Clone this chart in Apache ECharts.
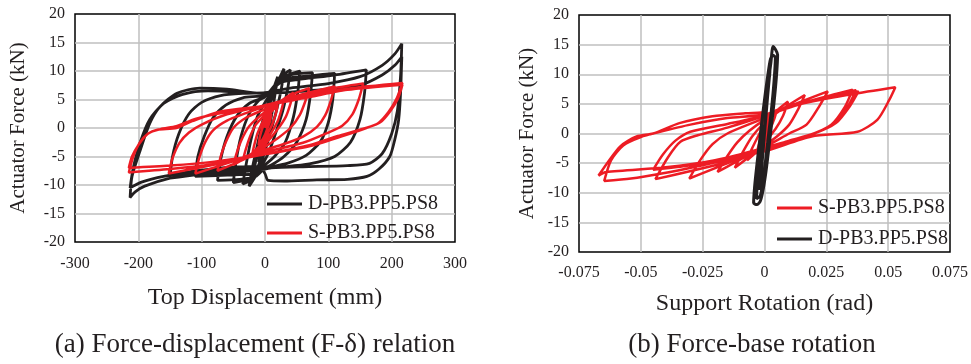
<!DOCTYPE html>
<html>
<head>
<meta charset="utf-8">
<script src="https://cdn.jsdelivr.net/npm/echarts@6/dist/echarts.min.js"></script>
<style>
html,body{margin:0;padding:0;background:#fff;}
#c{width:971px;height:364px;}
</style>
</head>
<body>
<div id="c"></div>
<script>
// ---- Data ----
const nameD = 'D-PB3.PP5.PS8';
const nameS = 'S-PB3.PP5.PS8';

// (a) Force vs top displacement (mm, kN) - D specimen
const dispForceD = [
[0,0],[5,3],[10,6],[7,3],[2,0],[-3,-3],[-10,-6],[-7,-3],[-2,0],[0,1],
[8,5],[20,9],[16,6],[10,2],[3,-2],[-5,-5],[-20,-9.3],[-15,-6],[-8,-2],[0,2],
[10,5],[20,8],[30,10.4],[26,7],[18,3],[8,-1],[0,-4],[-10,-7.5],[-25,-10.2],[-20,-7],[-12,-3],[-3,1.5],[5,4.5],
[15,7],[25,9],[40,10.2],[36,7],[28,3],[15,-1.5],[5,-4.5],[-10,-7.5],[-20,-9],[-35,-9.8],[-30,-6.5],[-22,-2],[-12,2],[0,4.5],
[15,7],[30,9],[55,10],[52,6.5],[45,2],[32,-2.5],[15,-5],[0,-6.5],[-15,-8.5],[-50,-9.6],[-46,-6],[-38,-1.5],[-25,2.5],[-10,4.8],[0,5.5],
[20,8],[40,9.3],[75,9.7],[72,6],[65,1.5],[50,-2.5],[30,-5],[10,-6.5],[0,-7],[-15,-8.5],[-40,-9],[-75,-9.2],[-70,-5.5],[-60,-1.5],[-45,2],[-25,4.3],[0,5.5],
[20,8],[40,8.8],[75,9.2],[110,9.6],[107,5],[100,1],[88,-2.3],[65,-4.8],[35,-6.2],[10,-6.8],[0,-7],[-15,-8],[-50,-8.2],[-110,-8.5],[-106,-5],[-96,-1.5],[-82,1.8],[-62,4],[-35,5.3],[0,5.8],
[25,8],[60,8.6],[110,9.3],[160,10.2],[157,6],[150,1.5],[135,-2.5],[110,-5],[70,-6.3],[30,-6.8],[0,-7],[-20,-7.5],[-60,-7.8],[-110,-8.2],[-150,-8.8],[-146,-5],[-136,-1],[-120,2.5],[-100,4.5],[-70,5.7],[-30,6.1],[0,6.2],
[40,7],[100,7.8],[150,9],[185,11],[205,13],[216,14.8],[214,9],[209,3],[200,-1],[185,-4.5],[165,-6.2],[130,-6.6],[60,-6.8],[10,-7],[0,-7.2],[-40,-7.3],[-100,-7.8],[-150,-8.8],[-190,-10.2],[-205,-11.2],[-213,-12.2],[-210,-8.5],[-197,-3.9],[-182,0.8],[-166,3.7],[-139,6.1],[-103,7],[-60,6.8],[-8,6.1],[0,6.1],
[40,6.3],[100,6.8],[150,7.5],[185,9.3],[205,11],[216,12.5],[214,6],[211,1.4],[205,-2],[197,-5],[180,-7.2],[161,-8.5],[130,-9],[82,-9.1],[30,-9.3],[5,-9.2],[0,-8],[-8,-6.8],[-30,-6.8],[-100,-7.4],[-160,-8.5],[-195,-9.5],[-213,-10.5],[-208,-7],[-197,-2.5],[-182,1.5],[-160,4.3],[-130,5.9],[-90,6.5],[-40,6.3],[0,6]
];

// (a) Force vs top displacement (mm, kN) - S specimen
const dispForceS = [
[0,0],[5,1.5],[10,2.5],[8,1.2],[4,0],[0,-1.2],[-5,-2.2],[-10,-3],[-8,-1.5],[-4,0],[0,1],
[10,2.8],[20,4],[17,2.5],[12,0.8],[5,-0.8],[0,-1.8],[-10,-3.3],[-20,-4.5],[-17,-3],[-12,-1],[-5,0.8],[0,1.8],
[15,3.8],[30,5],[26,3.2],[20,1.2],[10,-0.8],[0,-2.3],[-15,-4],[-35,-5.6],[-30,-3.6],[-24,-1.6],[-15,0.5],[0,2.3],
[20,4.3],[45,6.2],[40,4.2],[33,2],[20,-0.2],[0,-2.8],[-25,-4.8],[-50,-6.5],[-45,-4.5],[-38,-2.3],[-25,0.3],[0,2.8],
[30,5],[50,6.2],[70,7],[64,4.8],[55,2.3],[40,0],[20,-1.8],[0,-3.3],[-35,-5.6],[-75,-7.5],[-70,-5],[-62,-2.5],[-50,0],[-30,1.8],[0,3.3],
[40,5.3],[80,6.5],[110,7.3],[104,4.8],[95,2.2],[82,0.2],[60,-1.5],[30,-2.8],[0,-3.8],[-50,-5.8],[-110,-8],[-104,-5.3],[-95,-2.6],[-82,-0.4],[-60,1.3],[-30,2.6],[0,3.8],
[50,5.5],[100,6.8],[155,7.8],[148,5],[138,2.4],[122,0.4],[100,-0.8],[60,-2.6],[0,-4.2],[-70,-6.2],[-152,-8],[-146,-5.3],[-135,-2.6],[-120,-0.8],[-100,0.6],[-60,2.4],[0,4],
[60,5.6],[130,6.9],[217,7.9],[208,5.2],[195,2.8],[178,0.8],[150,-0.3],[115,-1.4],[70,-3],[0,-4.6],[-80,-6.3],[-150,-7.2],[-215,-7.8],[-208,-5],[-198,-2.6],[-185,-1],[-170,-0.3],[-140,0],[-115,1.2],[-70,2.9],[0,3.9],
[60,5.2],[130,6.7],[217,7.6],[210,5.2],[198,3],[182,1],[160,0],[120,-1.5],[70,-3.2],[0,-4.6],[-80,-5.9],[-150,-6.6],[-215,-7],[-210,-5],[-200,-3],[-185,-1],[-165,-0.2],[-140,0.3],[-110,1.6],[-60,2.8],[0,3.8]
];

// (b) Force vs support rotation (rad, kN) - S specimen
const rotForceS = [
[0,0],[0.001,1.5],[0.002,2.5],[0.0015,1],[0.0005,-0.5],[-0.001,-2],[-0.003,-3],[-0.002,-1.5],[-0.0005,0.5],[0,1],
[0.002,2.8],[0.005,4],[0.004,2.5],[0.002,0.5],[0,-1],[-0.003,-3],[-0.007,-4.5],[-0.005,-2.5],[-0.002,0],[0,1.5],
[0.004,3.5],[0.0095,5.4],[0.0075,3],[0.0045,0.8],[0,-1.5],[-0.005,-3.5],[-0.012,-5.8],[-0.009,-3.3],[-0.005,-0.5],[0,1.8],
[0.006,3.8],[0.0163,6.5],[0.0135,4],[0.01,1.5],[0.005,-0.5],[0,-2],[-0.008,-4],[-0.019,-6.5],[-0.015,-3.8],[-0.011,-1.5],[-0.006,0.5],[0,2.3],
[0.008,4.2],[0.0256,7.1],[0.022,4.5],[0.017,1.5],[0.01,0],[0,-2.3],[-0.012,-4.5],[-0.0304,-7.6],[-0.026,-4.5],[-0.021,-1.8],[-0.015,0],[0,2.6],
[0.01,4.5],[0.0356,7.4],[0.0325,4.5],[0.027,1.5],[0.018,-0.3],[0,-2.7],[-0.015,-4.8],[-0.0441,-7.7],[-0.039,-4],[-0.034,-1.4],[-0.027,-0.3],[-0.015,1],[0,3],
[0.012,4.8],[0.028,6.4],[0.038,7.1],[0.0345,4.6],[0.029,1.8],[0.02,0],[0,-2.4],[-0.02,-4.6],[-0.032,-5.5],[-0.045,-6.1],[-0.041,-3.5],[-0.036,-1.2],[-0.03,0.3],[-0.015,1.6],[0,3],
[0.015,5],[0.035,6.6],[0.0529,7.8],[0.0505,5.7],[0.0456,2.3],[0.0376,0.3],[0.019,-0.5],[0,-3],[-0.028,-5.6],[-0.041,-6.7],[-0.054,-7.6],[-0.0648,-8.0],[-0.062,-4.5],[-0.057,-2],[-0.05,-0.6],[-0.043,0.2],[-0.03,1.5],[-0.015,2.6],[0,3.2],
[0.015,5],[0.03,6.8],[0.037,7.3],[0.034,4.8],[0.029,2],[0.02,0],[0.01,-1.2],[0,-2.5],[-0.02,-4.5],[-0.04,-5.7],[-0.064,-6.5],[-0.0671,-7.1],[-0.0584,-2.2],[-0.0517,-0.5],[-0.045,0],[-0.0344,1.75],[-0.021,2.9],[-0.0077,3.4],[0,3.6]
];

// (b) Force vs support rotation (rad, kN) - D specimen
const rotForceD = [
[0,0],[0.0005,3],[0.0012,6],[0.0006,3],[0,0],[-0.0006,-3],[-0.0012,-6],[-0.0006,-3],[0,0],
[0.0012,6],[0.0022,10.5],[0.0014,7],[0.0004,2],[-0.0006,-3],[-0.0014,-7],[-0.0022,-9.5],[-0.0014,-6],[-0.0004,-1],[0.0006,4],
[0.0016,8.5],[0.0026,12],[0.0035,14.7],[0.0053,13.3],[0.0048,9.5],[0.0038,5],[0.0027,1],[0.0016,-3],[0.0004,-7],[-0.0008,-10],[-0.0018,-11.5],[-0.0031,-12],[-0.0044,-11.7],[-0.004,-9],[-0.003,-5],[-0.0019,-1],[-0.0008,3],[0.0004,7],[0.0014,10],[0.0024,12.5],[0.0034,13.2],[0.0044,12.8],[0.0038,8.5],[0.0028,4],[0.0017,0],[0.0006,-4],[-0.0006,-8],[-0.0017,-10.5],[-0.0032,-11],[-0.0028,-7],[-0.0018,-3],[-0.0006,1.5]
];

// Axis texts and captions
const dispAxisName = 'Top Displacement (mm)';
const rotAxisName = 'Support Rotation (rad)';
const forceAxisName = 'Actuator Force (kN)';
const captionA = '(a) Force-displacement (F-\u03b4) relation';
const captionB = '(b) Force-base rotation';

// ---- Chart ----
const FONT = '"Liberation Serif", "Times New Roman", serif';
const TXT = '#231f20';
const BLACK = '#231f20';
const RED = '#ed1c24';
const GRIDC = '#bfbfbf';

const chart = echarts.init(document.getElementById('c'), null, {renderer: 'canvas'});

function xAx(gi, min, max, interval, name, nameGap, margin) {
  return {
    type: 'value', gridIndex: gi, min: min, max: max, interval: interval,
    name: name, nameLocation: 'middle', nameGap: nameGap,
    nameTextStyle: {fontFamily: FONT, fontSize: 24, color: TXT},
    axisLine: {show: false}, axisTick: {show: false},
    axisLabel: {fontFamily: FONT, fontSize: 16, color: TXT, margin: margin},
    splitLine: {show: true, showMinLine: false, showMaxLine: false, lineStyle: {color: GRIDC, width: 1.5}}
  };
}
function yAx(gi, nameGap) {
  return {
    type: 'value', gridIndex: gi, min: -20, max: 20, interval: 5,
    name: forceAxisName, nameLocation: 'middle', nameGap: nameGap,
    nameTextStyle: {fontFamily: FONT, fontSize: 21, color: TXT},
    axisLine: {show: false}, axisTick: {show: false},
    axisLabel: {fontFamily: FONT, fontSize: 16, color: TXT, margin: 10},
    splitLine: {show: true, showMinLine: false, showMaxLine: false, lineStyle: {color: GRIDC, width: 1.5}}
  };
}
function ser(name, data, xi, color, width, z) {
  return {
    type: 'line', name: name, data: data, xAxisIndex: xi, yAxisIndex: xi,
    symbol: 'none', showSymbol: false, smooth: 0.25, z: z,
    lineStyle: {color: color, width: width}, itemStyle: {color: color},
    animation: false, silent: true
  };
}
function legendAt(names, left, top, gap) {
  return {
    data: names, left: left, top: top, orient: 'vertical', icon: 'rect', padding: 0,
    itemWidth: 35, itemHeight: 3, itemGap: gap, selectedMode: false,
    textStyle: {fontFamily: FONT, fontSize: 20, color: TXT, padding: [0, 0, 0, 1], lineHeight: 20}
  };
}

chart.setOption({
  animation: false,
  backgroundColor: '#fff',
  grid: [
    {left: 75, top: 14, width: 380, height: 228, show: true, borderColor: '#000', borderWidth: 1.5, backgroundColor: 'transparent'},
    {left: 579, top: 15, width: 375, height: 237, show: true, borderColor: '#000', borderWidth: 1.5, backgroundColor: 'transparent'}
  ],
  xAxis: [
    xAx(0, -300, 300, 100, dispAxisName, 44, 14),
    xAx(1, -0.075, 0.075, 0.025, rotAxisName, 40, 13)
  ],
  yAxis: [yAx(0, 46), yAx(1, 41)],
  legend: [
    legendAt([nameD, nameS], 267, 194, 9),
    legendAt([nameS, nameD], 777, 198, 11)
  ],
  series: [
    ser(nameD, dispForceD, 0, BLACK, 2.8, 2),
    ser(nameS, dispForceS, 0, RED, 2.5, 3),
    ser(nameS, rotForceS, 1, RED, 2.5, 2),
    ser(nameD, rotForceD, 1, BLACK, 3, 3)
  ],
  graphic: [
    {type: 'text', x: 255, y: 345, style: {text: captionA, textAlign: 'center', textVerticalAlign: 'middle', fontFamily: FONT, fontSize: 27, fill: TXT}},
    {type: 'text', x: 752, y: 345, style: {text: captionB, textAlign: 'center', textVerticalAlign: 'middle', fontFamily: FONT, fontSize: 27, fill: TXT}}
  ]
});
</script>
</body>
</html>
